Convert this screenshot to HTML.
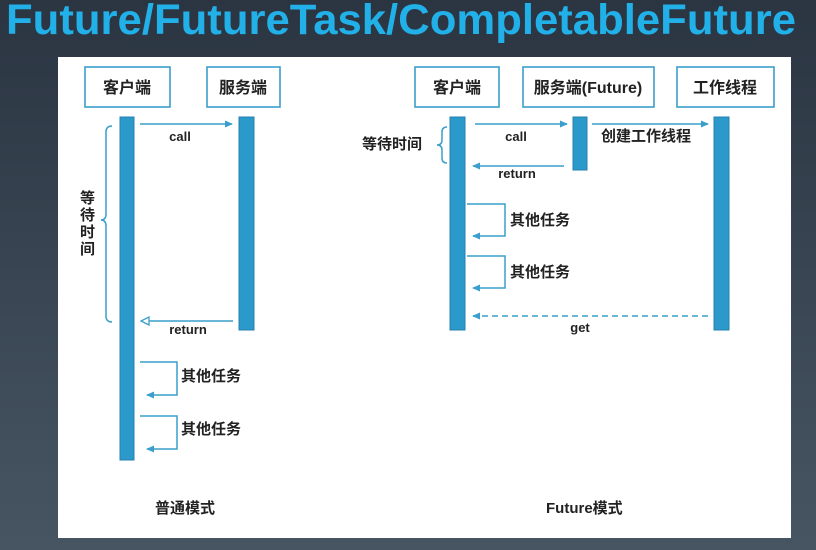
<!DOCTYPE html>
<html><head><meta charset="utf-8"><style>
html,body{margin:0;padding:0;width:816px;height:550px;overflow:hidden;background:linear-gradient(#2b3542,#475563);}
svg{display:block}
text{font-family:"Liberation Sans","Noto Sans CJK SC",sans-serif;}
</style></head><body>
<svg width="816" height="550" viewBox="0 0 816 550" xmlns="http://www.w3.org/2000/svg">
<defs>
<marker id="a" markerWidth="8" markerHeight="8" refX="7" refY="4" orient="auto" markerUnits="userSpaceOnUse"><path d="M0,0.5 L8,4 L0,7.5 Z" fill="#3a9fcc"/></marker>
<marker id="o" markerWidth="10" markerHeight="10" refX="9" refY="5" orient="auto" markerUnits="userSpaceOnUse"><path d="M1,1 L9,5 L1,9 Z" fill="#fff" stroke="#3a9fcc" stroke-width="1.3"/></marker>
</defs>
<text x="6" y="34" font-size="43" font-weight="bold" fill="#22b0e8" textLength="790" lengthAdjust="spacingAndGlyphs">Future/FutureTask/CompletableFuture</text>
<rect x="58" y="57" width="733" height="481" fill="#fff"/>
<g fill="none" stroke="#3a9fcc" stroke-width="1.6">
<rect x="85" y="67" width="85" height="40"/><rect x="207" y="67" width="73" height="40"/>
<rect x="415" y="67" width="84" height="40"/><rect x="523" y="67" width="131" height="40"/><rect x="677" y="67" width="97" height="40"/>
</g>
<g font-size="16" fill="#222" text-anchor="middle" font-weight="bold">
<text x="127" y="93">客户端</text><text x="243" y="93">服务端</text>
<text x="457" y="93">客户端</text><text x="588" y="93">服务端(Future)</text><text x="725" y="93">工作线程</text>
</g>
<g fill="#2b9acb" stroke="#2480ad" stroke-width="1">
<rect x="120" y="117" width="14" height="343"/><rect x="239" y="117" width="15" height="213"/>
<rect x="450" y="117" width="15" height="213"/><rect x="573" y="117" width="14" height="53"/><rect x="714" y="117" width="15" height="213"/>
</g>
<g stroke="#3a9fcc" stroke-width="1.5" fill="none">
<line x1="140" y1="124" x2="232" y2="124" marker-end="url(#a)"/>
<line x1="233" y1="321" x2="141" y2="321" marker-end="url(#o)"/>
<path d="M140,362 H177 V395 H147" marker-end="url(#a)"/>
<path d="M140,416 H177 V449 H147" marker-end="url(#a)"/>
<path d="M112,126 Q106,126 106,132 V214 Q106,220 101,220 Q106,220 106,226 V316 Q106,322 112,322"/>
<line x1="475" y1="124" x2="567" y2="124" marker-end="url(#a)"/>
<line x1="592" y1="124" x2="708" y2="124" marker-end="url(#a)"/>
<line x1="564" y1="166" x2="473" y2="166" marker-end="url(#a)"/>
<path d="M467,204 H505 V236 H473" marker-end="url(#a)"/>
<path d="M467,256 H505 V288 H473" marker-end="url(#a)"/>
<line x1="708" y1="316" x2="473" y2="316" stroke-dasharray="6,4" marker-end="url(#a)"/>
<path d="M447,127 Q442,127 442,132 V140 Q442,145 437,145 Q442,145 442,150 V158 Q442,163 447,163"/>
</g>
<g font-size="13" fill="#222" font-weight="bold" text-anchor="middle">
<text x="180" y="141">call</text><text x="188" y="334">return</text>
<text x="516" y="141">call</text><text x="517" y="178">return</text><text x="580" y="332">get</text>
</g>
<g font-size="15" fill="#222" font-weight="bold">
<text x="181" y="381">其他任务</text><text x="181" y="434">其他任务</text>
<text x="510" y="225">其他任务</text><text x="510" y="277">其他任务</text>
<text x="601" y="141">创建工作线程</text><text x="362" y="149">等待时间</text>
<text x="80" y="203">等</text><text x="80" y="220">待</text><text x="80" y="237">时</text><text x="80" y="254">间</text>
<text x="155" y="513">普通模式</text><text x="546" y="513">Future模式</text>
</g>
</svg>
</body></html>
